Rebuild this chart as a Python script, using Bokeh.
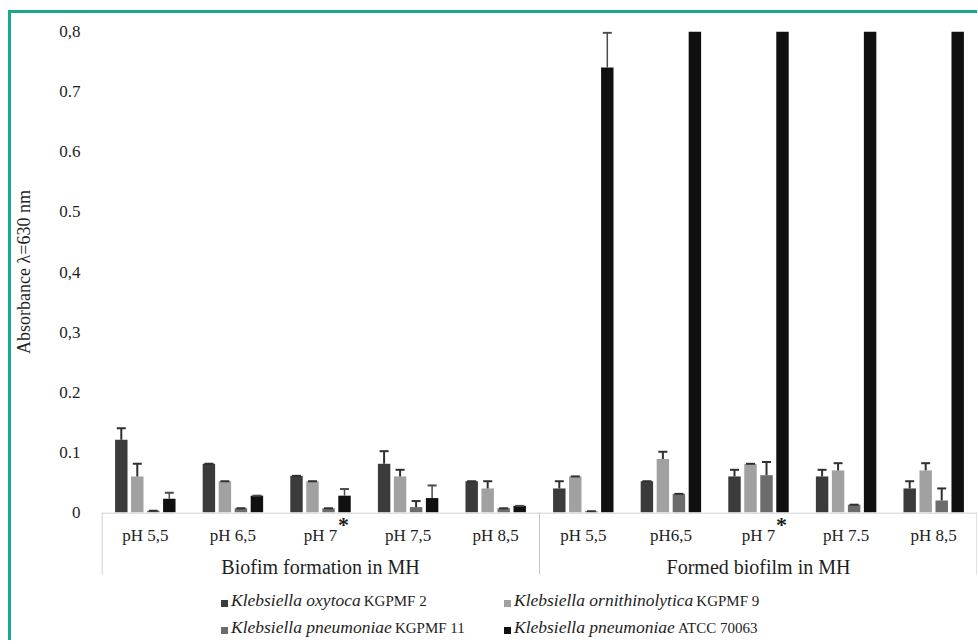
from bokeh.plotting import figure
from bokeh.models import (FactorRange, Range1d, FixedTicker, ColumnDataSource,
                          Whisker, TeeHead, Span, Div)
from bokeh.layouts import column
from bokeh.core.properties import value
from bokeh.embed import file_html
from bokeh.resources import INLINE

# ---------------- data ----------------
groups = ["Biofim formation in MH", "Formed biofilm in MH"]
ph_group1 = ["pH 5,5", "pH 6,5", "pH 7", "pH 7,5", "pH 8,5"]
ph_group2 = ["pH 5,5", "pH6,5", "pH 7", "pH 7.5", "pH 8,5"]
starred = ["pH 7"]

series_italic = ["Klebsiella oxytoca", "Klebsiella ornithinolytica",
                 "Klebsiella pneumoniae", "Klebsiella pneumoniae"]
series_strain = ["KGPMF 2", "KGPMF 9", "KGPMF 11", "ATCC 70063"]

# values: 5 pH of group 1, then 5 pH of group 2
oxytoca = [0.121, 0.081, 0.061, 0.081, 0.052, 0.040, 0.052, 0.060, 0.060, 0.040]
oxytoca_err = [0.019, 0.0, 0.0, 0.021, 0.0, 0.012, 0.0, 0.011, 0.011, 0.012]
ornithinolytica = [0.060, 0.052, 0.052, 0.060, 0.040, 0.060, 0.089, 0.081, 0.070, 0.070]
ornithinolytica_err = [0.021, 0.0, 0.0, 0.011, 0.012, 0.0, 0.012, 0.0, 0.012, 0.012]
pneumoniae11 = [0.003, 0.007, 0.007, 0.009, 0.007, 0.002, 0.031, 0.062, 0.013, 0.020]
pneumoniae11_err = [0.0, 0.0, 0.0, 0.010, 0.0, 0.0, 0.0, 0.022, 0.0, 0.020]
atcc70063 = [0.023, 0.028, 0.028, 0.024, 0.011, 0.740, 0.80, 0.80, 0.80, 0.80]  # 0.80 = off scale
atcc70063_err = [0.010, 0.0, 0.011, 0.021, 0.0, 0.058, 0.0, 0.0, 0.0, 0.0]

y_ticks = [0, 0.1, 0.2, 0.3, 0.4, 0.5, 0.6, 0.7, 0.8]
y_tick_labels = ["0", "0.1", "0.2", "0,3", "0,4", "0.5", "0.6", "0.7", "0,8"]
y_max = 0.8
y_title = "Absorbance \u03bb=630 nm"

# ---------------- styles ----------------
colors = ["#3b3b3b", "#a1a1a1", "#6c6c6c", "#101010"]
offsets = [-0.274, -0.0915, 0.0915, 0.274]
bar_w = 0.142
SERIF = "Liberation Serif"
TEXT = "#1e1e1e"
TEAL = "#17a98f"
GRID = "#c4c4c4"
W = 966
LEFT = 89
OVERLAP = 13

x_factors = [(groups[0], ph) for ph in ph_group1] + [(groups[1], ph) for ph in ph_group2]
xr = FactorRange(*x_factors, factor_padding=0, group_padding=0, subgroup_padding=0,
                 range_padding=0)

# ---------------- main plot ----------------
p = figure(x_range=xr, y_range=Range1d(0, y_max),
           width=W, height=18 + 481 + OVERLAP, output_backend="svg",
           toolbar_location=None, x_axis_location=None, min_border_left=LEFT,
           min_border_right=0, min_border_top=18, min_border_bottom=OVERLAP)
p.outline_line_color = None
p.xgrid.visible = False
p.ygrid.visible = False

ya = p.yaxis[0]
ya.ticker = FixedTicker(ticks=y_ticks)
ya.major_label_overrides = {t: l for t, l in zip(y_ticks, y_tick_labels)}
ya.axis_line_color = None
ya.major_tick_line_color = None
ya.minor_tick_line_color = None
ya.major_label_text_font = SERIF
ya.major_label_text_font_size = "17px"
ya.major_label_text_color = TEXT
ya.major_label_standoff = 15
ya.axis_label = y_title
ya.axis_label_text_font = SERIF
ya.axis_label_text_font_style = "normal"
ya.axis_label_text_font_size = "18px"
ya.axis_label_text_color = TEXT
ya.axis_label_standoff = 22

all_vals = [oxytoca, ornithinolytica, pneumoniae11, atcc70063]
all_errs = [oxytoca_err, ornithinolytica_err, pneumoniae11_err, atcc70063_err]

for i, (vals, errs) in enumerate(zip(all_vals, all_errs)):
    xs = [(g, ph, offsets[i]) for (g, ph) in x_factors]
    src = ColumnDataSource(dict(x=xs, top=vals))
    p.vbar(x="x", top="top", width=bar_w, source=src, fill_color=colors[i],
           line_color=None)
    keep = [k for k in range(len(vals)) if vals[k] < y_max]
    wsrc = ColumnDataSource(dict(base=[xs[k] for k in keep],
                                 lower=[vals[k] for k in keep],
                                 upper=[vals[k] + errs[k] for k in keep]))
    head_col = "#303030" if i < 3 else "#4a4a4a"
    w = Whisker(base="base", lower="lower", upper="upper", source=wsrc,
                line_color=head_col, line_width=2 if i < 3 else 1.5,
                upper_head=TeeHead(size=9, line_color=head_col, line_width=2),
                lower_head=None, level="overlay")
    p.add_layout(w)

# ---------------- category axis strip (units: px below zero), transparent, overlapping ----------------
q = figure(x_range=xr, y_range=Range1d(-66, 0), width=W, height=66,
           output_backend="svg", toolbar_location=None, x_axis_location=None,
           y_axis_location=None, min_border_left=LEFT, min_border_right=0,
           min_border_top=0, min_border_bottom=0, margin=(-OVERLAP, 0, 0, 0))
q.outline_line_color = None
q.background_fill_color = None
q.border_fill_color = None
q.xgrid.visible = False
q.ygrid.visible = False

q.add_layout(Span(location=-0.5, dimension="width", line_color=GRID, line_width=1))
sep_x = [(groups[0], ph_group1[0], -0.5 + 0.006), (groups[0], ph_group1[-1], 0.5),
         (groups[1], ph_group2[-1], 0.5 - 0.006)]
q.segment(x0=sep_x, y0=[0] * 3, x1=sep_x, y1=[-62] * 3,
          line_color=GRID, line_width=1)
q.text(x=x_factors, y=[-23] * len(x_factors), text=[f for _, f in x_factors],
       text_font=value(SERIF), text_font_size="17px", text_color=TEXT,
       text_align="center", text_baseline="middle")
star_x = [(g, ph, 0.2) for (g, ph) in x_factors if ph in starred]
q.text(x=star_x, y=[-12] * len(star_x), text=["*"] * len(star_x),
       text_font=value(SERIF), text_font_size="22px", text_font_style="bold",
       text_color=TEXT, text_align="left", text_baseline="middle")
gx = [(groups[0], ph_group1[2]), (groups[1], ph_group2[2])]
q.text(x=gx, y=[-54] * 2, text=groups, text_font=value(SERIF),
       text_font_size="20px", text_color=TEXT, text_align="center",
       text_baseline="middle")

# ---------------- legend (HTML: mixed italic / roman) ----------------
leg_pos = [(210, 22), (493, 22), (210, 49), (493, 49)]
items = []
for (lx, ly), c, it, st in zip(leg_pos, colors, series_italic, series_strain):
    items.append(
        f'<div style="position:absolute;left:{lx}px;top:{ly - 11}px;height:22px;'
        f'line-height:22px;white-space:nowrap;">'
        f'<span style="display:inline-block;width:7px;height:7px;background:{c};'
        f'margin-right:3px;vertical-align:middle;"></span>'
        f'<i style="font-size:17.5px;">{it}</i>&nbsp;'
        f'<span style="font-size:15px;">{st}</span></div>')
legend_html = (f'<div style="position:relative;width:{W}px;height:62px;'
               f'font-family:\'{SERIF}\';color:{TEXT};">' + "".join(items) + "</div>")
leg = Div(text=legend_html, width=W, height=62, margin=(0, 0, 0, 0))

layout = column(p, q, leg, spacing=0,
                styles={"border-left": f"3px solid {TEAL}",
                        "border-top": f"3px solid {TEAL}",
                        "margin-top": "10px", "margin-left": "8px"})

open("out.html", "w").write(file_html(layout, INLINE))
